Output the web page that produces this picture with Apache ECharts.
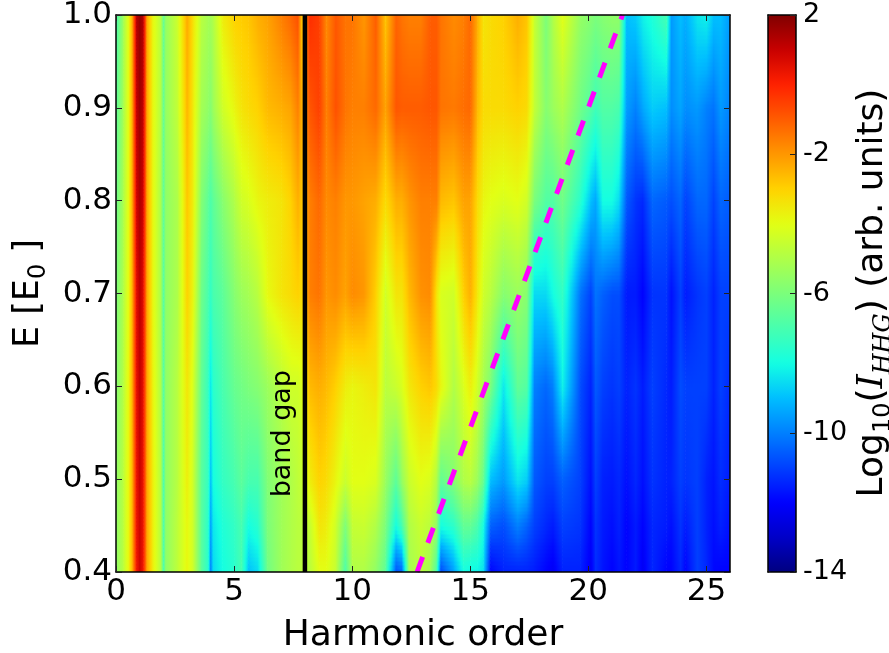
<!DOCTYPE html>
<html><head><meta charset="utf-8">
<style>html,body{margin:0;padding:0;background:#fff}#c{width:889px;height:653px}</style>
<script src="https://cdn.jsdelivr.net/npm/echarts@6/dist/echarts.min.js"></script>
</head><body><div id="c"></div>
<script>
// Field strengths (rows of every column below, bottom to top)
const fieldE = [0.40,0.45,0.50,0.60,0.70,0.80,0.90,1.00];
// log10 intensity read per harmonic order
const h000=[-5.6,-5.6,-5.6,-5.8,-6.0,-6.3,-6.6,-7.0];
const h030=[-4.8,-4.8,-4.8,-4.9,-5.0,-5.1,-5.2,-5.3];
const h055=[-3.6,-3.6,-3.6,-3.6,-3.7,-3.7,-3.7,-3.7];
const h070=[-2.2,-2.2,-2.2,-2.1,-2.1,-2.0,-2.0,-2.0];
const h085=[0.2,0.3,0.3,0.4,0.5,0.8,1.0,1.2];
const h100=[0.9,0.9,1.0,1.1,1.2,1.4,1.6,1.7];
const h115=[0.2,0.3,0.3,0.4,0.5,0.8,1.0,1.2];
const h130=[-2.2,-2.2,-2.2,-2.2,-2.2,-2.2,-2.2,-2.2];
const h155=[-3.6,-3.6,-3.6,-3.7,-3.8,-3.8,-3.8,-3.8];
const h190=[-5.0,-5.0,-5.0,-5.1,-5.2,-5.2,-5.0,-4.9];
const h200=[-7.0,-7.0,-7.0,-6.8,-6.8,-6.6,-6.5,-6.5];
const h210=[-5.6,-5.6,-5.6,-5.6,-5.6,-5.6,-5.5,-5.5];
const h260=[-4.7,-4.7,-4.8,-4.8,-5.0,-5.0,-4.6,-4.4];
const h300=[-3.8,-3.8,-3.6,-3.4,-3.0,-2.8,-2.5,-2.3];
const h325=[-4.4,-4.4,-4.4,-4.2,-3.8,-3.6,-3.5,-3.3];
const h360=[-6.6,-6.6,-6.6,-6.4,-6.2,-5.8,-5.2,-4.8];
const h390=[-7.6,-7.6,-7.4,-7.4,-7.0,-6.6,-5.6,-5.2];
const h400=[-10.0,-9.5,-9.0,-8.4,-7.4,-6.9,-5.8,-5.2];
const h410=[-8.6,-8.4,-8.0,-7.6,-7.0,-6.6,-5.4,-5.0];
const h450=[-8.0,-7.8,-7.4,-7.0,-6.6,-5.8,-4.4,-3.6];
const h500=[-7.6,-7.4,-7.0,-6.4,-5.8,-5.0,-3.8,-3.0];
const h530=[-7.0,-7.0,-6.6,-6.2,-5.4,-4.4,-3.4,-2.9];
const h560=[-9.0,-8.0,-7.0,-6.0,-5.2,-4.2,-3.2,-2.8];
const h600=[-8.6,-7.6,-7.0,-5.8,-4.8,-3.8,-3.0,-2.4];
const h640=[-6.2,-6.0,-5.9,-5.4,-3.9,-3.6,-2.6,-2.2];
const h700=[-5.3,-5.3,-5.3,-4.8,-3.4,-3.4,-2.4,-1.6];
const h740=[-5.0,-5.0,-5.0,-4.4,-3.2,-3.0,-2.2,-1.2];
const h770=[-4.8,-4.8,-4.7,-4.4,-3.0,-2.4,-1.6,-0.8];
const h785=[-4.8,-4.8,-4.6,-4.2,-3.2,-2.8,-2.4,-2.8];
const h820=[-4.8,-4.6,-3.6,-2.6,-1.6,-1.6,-0.9,-0.2];
const h860=[-4.0,-3.4,-3.0,-2.4,-1.4,-1.2,-0.5,-0.5];
const h890=[-4.0,-3.6,-3.2,-2.6,-2.0,-1.8,-1.6,-1.8];
const h930=[-4.6,-4.4,-3.8,-3.0,-1.8,-1.6,-0.8,-0.9];
const h970=[-7.0,-6.0,-4.5,-3.6,-2.2,-2.0,-1.4,-1.4];
const h1000=[-5.0,-4.6,-4.0,-3.8,-1.8,-2.0,-1.6,-1.4];
const h1050=[-5.0,-4.5,-4.0,-3.6,-2.0,-2.2,-1.6,-2.0];
const h1100=[-5.6,-5.0,-4.2,-3.4,-3.0,-2.4,-1.2,-1.0];
const h1140=[-6.6,-6.0,-5.4,-4.8,-4.4,-3.2,-2.2,-2.8];
const h1185=[-10.8,-8.0,-6.6,-4.5,-3.4,-2.4,-0.9,-1.1];
const h1210=[-10.5,-7.0,-5.5,-4.2,-3.4,-2.4,-1.0,-1.4];
const h1240=[-5.2,-5.0,-4.5,-3.5,-2.6,-2.0,-1.0,-1.6];
const h1290=[-4.8,-4.5,-4.0,-3.0,-1.9,-1.6,-1.0,-1.6];
const h1330=[-5.3,-4.8,-4.2,-2.8,-1.8,-1.6,-0.9,-1.0];
const h1357=[-7.0,-5.6,-5.0,-3.2,-3.4,-1.6,-0.9,-1.0];
const h1375=[-11.0,-8.0,-6.5,-3.8,-4.2,-2.6,-1.4,-1.4];
const h1430=[-9.5,-7.5,-5.8,-5.0,-4.4,-2.8,-1.5,-1.8];
const h1470=[-8.0,-6.5,-5.0,-4.2,-3.0,-2.2,-1.3,-1.6];
const h1500=[-8.2,-6.5,-4.8,-3.6,-2.4,-2.2,-1.2,-1.2];
const h1530=[-8.2,-7.0,-5.4,-4.4,-3.5,-3.2,-2.6,-2.4];
const h1555=[-8.5,-8.0,-6.4,-5.2,-4.4,-3.8,-3.2,-3.4];
const h1585=[-12.0,-10.5,-9.0,-6.0,-4.8,-4.0,-3.2,-3.2];
const h1640=[-11.5,-10.8,-9.6,-8.4,-5.8,-4.2,-3.2,-3.0];
const h1700=[-11.5,-10.0,-8.4,-6.5,-5.4,-4.0,-3.0,-2.4];
const h1740=[-11.5,-10.5,-8.8,-6.8,-5.8,-4.4,-3.2,-2.8];
const h1770=[-11.6,-11.0,-10.6,-10.0,-8.6,-6.0,-4.6,-4.5];
const h1820=[-12.0,-11.4,-11.0,-10.4,-8.6,-6.8,-5.8,-6.0];
const h1850=[-12.2,-11.6,-11.0,-10.0,-8.0,-6.8,-5.4,-5.0];
const h1890=[-11.5,-11.0,-10.5,-8.2,-7.4,-6.2,-5.0,-4.0];
const h1965=[-11.5,-11.2,-11.0,-10.8,-10.2,-7.6,-6.2,-5.5];
const h2010=[-12.2,-12.0,-11.8,-11.5,-11.0,-9.0,-6.8,-5.8];
const h2030=[-11.3,-11.2,-11.0,-10.6,-10.2,-9.4,-7.2,-6.0];
const h2060=[-11.7,-11.6,-11.5,-11.0,-10.5,-8.0,-6.8,-5.8];
const h2100=[-12.0,-11.8,-11.6,-11.2,-10.8,-8.0,-6.8,-5.6];
const h2130=[-11.7,-11.5,-11.4,-11.0,-10.8,-8.6,-7.0,-5.6];
const h2160=[-12.0,-12.0,-11.8,-11.5,-11.6,-10.6,-9.5,-9.0];
const h2200=[-11.6,-11.6,-11.4,-11.2,-11.6,-11.2,-10.0,-8.8];
const h2230=[-12.2,-12.0,-11.8,-11.6,-12.0,-11.4,-9.4,-8.2];
const h2270=[-11.4,-11.4,-11.2,-11.0,-11.2,-10.4,-8.8,-7.8];
const h2330=[-12.0,-11.6,-11.5,-11.4,-11.2,-10.6,-9.0,-7.0];
const h2350=[-12.0,-11.8,-11.5,-11.6,-11.8,-10.8,-9.8,-9.6];
const h2390=[-11.4,-11.2,-11.0,-10.8,-11.0,-10.4,-9.4,-9.0];
const h2410=[-12.0,-11.6,-11.2,-11.0,-11.6,-11.0,-9.8,-9.3];
const h2460=[-11.0,-11.0,-11.0,-11.0,-11.2,-10.4,-9.6,-8.4];
const h2500=[-11.4,-11.5,-11.5,-11.0,-11.0,-10.4,-10.0,-8.2];
const h2530=[-11.9,-11.8,-11.7,-11.5,-11.5,-11.0,-10.2,-9.0];
const h2560=[-12.0,-11.5,-11.3,-11.0,-11.0,-10.4,-9.6,-9.0];
const h2600=[-12.0,-11.8,-11.6,-11.4,-11.0,-10.6,-10.0,-9.6];

const orders = [0,0.3,0.55,0.7,0.85,1,1.15,1.3,1.55,1.9,2,2.1,2.6,3,3.25,3.6,3.9,4,4.1,4.5,5,5.3,5.6,6,6.4,7,7.4,7.7,7.85,8.2,8.6,8.9,9.3,9.7,10,10.5,11,11.4,11.85,12.1,12.4,12.9,13.3,13.57,13.75,14.3,14.7,15,15.3,15.55,15.85,16.4,17,17.4,17.7,18.2,18.5,18.9,19.65,20.1,20.3,20.6,21,21.3,21.6,22,22.3,22.7,23.3,23.5,23.9,24.1,24.6,25,25.3,25.6,26];
const columns = [h000,h030,h055,h070,h085,h100,h115,h130,h155,h190,h200,h210,h260,h300,h325,h360,h390,h400,h410,h450,h500,h530,h560,h600,h640,h700,h740,h770,h785,h820,h860,h890,h930,h970,h1000,h1050,h1100,h1140,h1185,h1210,h1240,h1290,h1330,h1357,h1375,h1430,h1470,h1500,h1530,h1555,h1585,h1640,h1700,h1740,h1770,h1820,h1850,h1890,h1965,h2010,h2030,h2060,h2100,h2130,h2160,h2200,h2230,h2270,h2330,h2350,h2390,h2410,h2460,h2500,h2530,h2560,h2600];

const bandGap = [[8,0.4],[8,1.0]];
const cutoff = [[12.75,0.4],[21.45,1.0]];
const bandGapLabel = [[7.05,0.549]];
const xTicks = [0,5,10,15,20,25];
const colorTicks = [-14,-10,-6,-2,2];
const vMin = -14, vMax = 2;
const jet = ['#000080','#0000c8','#0000ff','#0040ff','#0080ff','#00bfff','#14ffe2','#47ffaf','#7bff7b','#afff48','#e2ff14','#ffd200','#ff9700','#ff5c00','#ff2100','#c80000','#800000'];

const colorOf = v => echarts.color.lerp(Math.max(0,Math.min(1,(v-vMin)/(vMax-vMin))), jet);
const cells = [];
orders.forEach((o,i)=>{ if(i<orders.length-1) fieldE.forEach((e,j)=>{ if(j<fieldE.length-1) cells.push([o,e,columns[i][j],i,j]); }); });

function renderCell(params, api){
  const i = api.value(3), j = api.value(4);
  const p0 = api.coord([orders[i],fieldE[j]]), p1 = api.coord([orders[i+1],fieldE[j+1]]);
  const x0 = p0[0], x1 = p1[0], yb = p0[1], yt = p1[1];
  const n = Math.max(1,Math.ceil((yb-yt)/4));
  const a0=columns[i][j], a1=columns[i][j+1], b0=columns[i+1][j], b1=columns[i+1][j+1];
  const children = [];
  for(let s=0;s<n;s++){
    const f=(s+0.5)/n, l=a0+(a1-a0)*f, r=b0+(b1-b0)*f, stops=[], m=4;
    for(let k=0;k<=m;k++) stops.push({offset:k/m,color:colorOf(l+(r-l)*k/m)});
    const top=Math.floor(yb-(yb-yt)*(s+1)/n), bot=Math.ceil(yb-(yb-yt)*s/n);
    children.push({type:'rect',shape:{x:x0,y:top,width:x1-x0+0.6,height:bot-top+0.5},
      style:{fill:{type:'linear',x:0,y:0,x2:1,y2:0,colorStops:stops}},silent:true});
  }
  return {type:'group',children};
}

const font='"DejaVu Sans"';
const boxLine={show:true,onZero:false,lineStyle:{color:'#000',width:1.5}};
const tick={show:true,inside:true,length:6,lineStyle:{color:'#222',width:1}};
const chart=echarts.init(document.getElementById('c'),null,{renderer:'canvas'});
chart.setOption({
  animation:false,backgroundColor:'#fff',
  grid:[{left:116,top:15,width:614,height:557,outerBoundsMode:'none'},{left:768,top:15,width:28,height:557,outerBoundsMode:'none'}],
  xAxis:[
   {type:'value',gridIndex:0,min:0,max:26,position:'bottom',z:6,splitLine:{show:false},axisLine:boxLine,
    axisTick:{...tick,customValues:xTicks},
    axisLabel:{customValues:xTicks,color:'#000',fontFamily:font,fontSize:31,margin:4,hideOverlap:false},
    name:'Harmonic order',nameLocation:'middle',nameGap:46,nameTextStyle:{color:'#000',fontFamily:font,fontSize:36}},
   {type:'value',gridIndex:0,min:0,max:26,position:'top',z:6,splitLine:{show:false},axisLine:boxLine,
    axisTick:{...tick,customValues:xTicks},axisLabel:{show:false}},
   {type:'value',gridIndex:1,min:0,max:1,position:'bottom',z:6,splitLine:{show:false},axisLine:boxLine,axisTick:{show:false},axisLabel:{show:false}},
   {type:'value',gridIndex:1,min:0,max:1,position:'top',z:6,splitLine:{show:false},axisLine:boxLine,axisTick:{show:false},axisLabel:{show:false}}
  ],
  yAxis:[
   {type:'value',gridIndex:0,min:0.4,max:1.0,interval:0.1,position:'left',z:6,splitLine:{show:false},axisLine:boxLine,axisTick:tick,
    axisLabel:{color:'#000',fontFamily:font,fontSize:31,margin:4,formatter:v=>v.toFixed(1)},
    name:'E [E{s|0} ]',nameLocation:'middle',nameGap:65,nameRotate:90,
    nameTextStyle:{color:'#000',fontFamily:font,fontSize:35,lineHeight:44,rich:{s:{fontFamily:font,fontSize:24,verticalAlign:'bottom',lineHeight:44,color:'#000'}}}},
   {type:'value',gridIndex:0,min:0.4,max:1.0,interval:0.1,position:'right',z:6,splitLine:{show:false},axisLine:boxLine,axisTick:tick,axisLabel:{show:false}},
   {type:'value',gridIndex:1,min:vMin,max:vMax,position:'right',z:6,splitLine:{show:false},axisLine:boxLine,
    axisTick:{...tick,customValues:colorTicks},
    axisLabel:{customValues:colorTicks,color:'#000',fontFamily:font,fontSize:27,margin:7,formatter:v=>String(v)}},
   {type:'value',gridIndex:1,min:vMin,max:vMax,position:'left',z:6,splitLine:{show:false},axisLine:boxLine,axisTick:{show:false},axisLabel:{show:false}}
  ],
  visualMap:{type:'continuous',min:vMin,max:vMax,seriesIndex:0,dimension:2,show:true,left:768,top:15,itemWidth:28,itemHeight:557,padding:0,text:null,calculable:false,hoverLink:false,realtime:false,inRange:{color:jet},textStyle:{fontSize:0}},
  series:[
   {type:'custom',xAxisIndex:0,yAxisIndex:0,data:cells,renderItem:renderCell,encode:{x:0,y:1},clip:true,silent:true,z:1},
   {type:'line',xAxisIndex:0,yAxisIndex:0,data:bandGap,symbol:'none',lineStyle:{color:'#000',width:4.5},z:3,silent:true},
   {type:'line',xAxisIndex:0,yAxisIndex:0,data:cutoff,symbol:'none',lineStyle:{color:'#ff00ff',width:5,type:[16,15]},z:3,silent:true},
   {type:'scatter',xAxisIndex:0,yAxisIndex:0,data:bandGapLabel,symbolSize:0,z:4,silent:true,itemStyle:{opacity:1},
    label:{show:true,position:'inside',rotate:90,formatter:'band gap',color:'#000',fontFamily:font,fontSize:27}}
  ],
  graphic:[{type:'text',x:873,y:293,rotation:Math.PI/2,z:10,silent:true,
    style:{text:'Log{s|10}({i|I}{j|HHG}) (arb. units)',fill:'#000',font:'36px "DejaVu Sans"',align:'center',verticalAlign:'middle',lineHeight:46,
      rich:{s:{font:'24px "DejaVu Sans"',fill:'#000',verticalAlign:'bottom',lineHeight:46},
            i:{font:'italic 36px "DejaVu Serif"',fill:'#000'},
            j:{font:'italic 24px "DejaVu Serif"',fill:'#000',verticalAlign:'bottom',lineHeight:46}}}}]
});
</script></body></html>
